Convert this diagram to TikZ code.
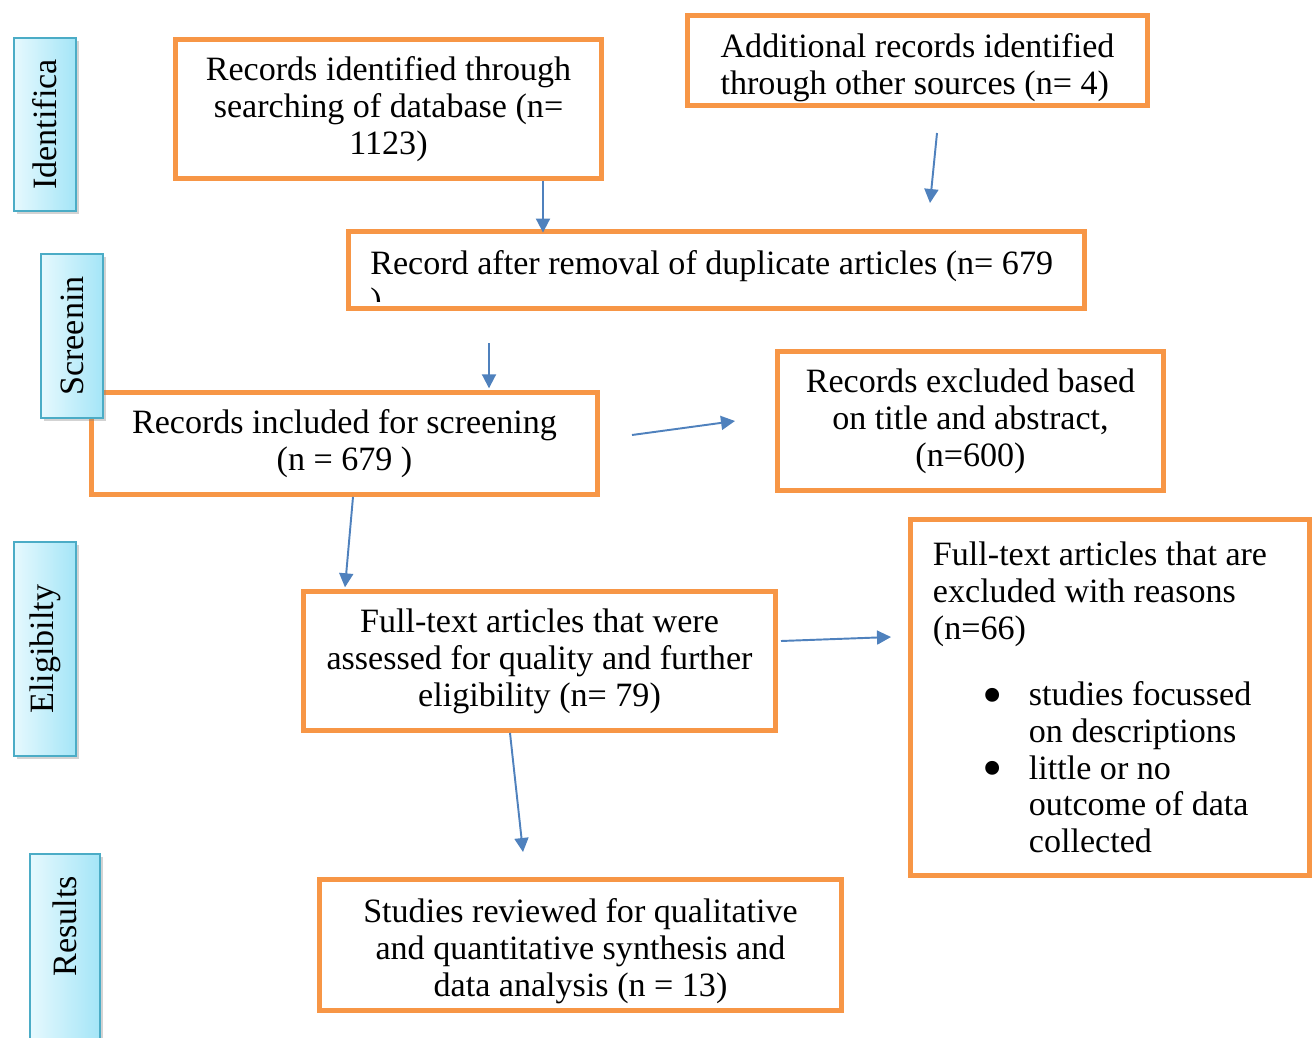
\documentclass[tikz,border=0pt]{standalone}
\usepackage{fontspec}
\setmainfont{Liberation Serif}
\usetikzlibrary{arrows.meta,shadows}
\definecolor{boxorange}{HTML}{F79646}
\definecolor{arrowblue}{HTML}{4F81BD}
\definecolor{tabedge}{HTML}{4BACC6}
\definecolor{tableft}{HTML}{E6F9FE}
\definecolor{tabright}{HTML}{A4E5F7}
\newcommand{\bigdot}{\raisebox{-5pt}{\scalebox{1.7}{\textbullet}}}

\begin{document}
\begin{tikzpicture}[x=0.02cm, y=-0.02cm, >={Triangle[width=0.28cm,length=0.28cm]},
    txt/.style={inner sep=0pt, font=\fontsize{19.4pt}{21pt}\selectfont},
    box/.style={txt, draw=boxorange, line width=2.8pt, fill=white, align=center},
    tab/.style={txt, draw=tabedge, line width=1pt, left color=tableft, right color=tabright,
        drop shadow={shadow xshift=1.5pt, shadow yshift=-1.5pt, opacity=0.35}},
    arr/.style={->, draw=arrowblue, line width=1.1pt}]
    % Page size
    \clip (0,0) rectangle (1316,1038);

    % Draw identification boxes
    \node[box, minimum width=8.52cm, minimum height=2.78cm] (rid) at (388.5,109)
        {Records identified through\\ searching of database (n=\\ 1123)};
    \node[box, align=left, minimum width=9.2cm, minimum height=1.8cm] (add) at (917.5,60.5)
        {\rule{0pt}{0.78cm}Additional records identified\\ through other sources (n= 4)};

    % Draw duplicate removal box, text cut at the bottom
    \node[box, minimum width=14.72cm, minimum height=1.54cm] (dup) at (716.5,270) {};
    \begin{scope}
        \clip (349,232) rectangle (1084,301);
        \node[txt, anchor=north west, align=left] (duptext) at (370,250)
            {Record after removal of duplicate articles (n= 679\\ )};
    \end{scope}

    % Draw screening boxes
    \node[box, minimum width=10.12cm, minimum height=2.04cm] (rs) at (344.5,443.5)
        {Records included for screening\\ (n = 679 )};
    \node[box, minimum width=7.72cm, minimum height=2.78cm] (exa) at (970.5,421)
        {Records excluded based\\ on title and abstract,\\ (n=600)};

    % Draw eligibility boxes
    \node[box, minimum width=9.44cm, minimum height=2.78cm] (ft) at (539.5,661)
        {Full-text articles that were\\ assessed for quality and further\\ eligibility (n= 79)};
    \node[box, align=left, minimum width=7.98cm, minimum height=7.12cm] (exb) at (1110,697.5)
        {Full-text articles that are\hspace*{0.4cm}\\ excluded with reasons\\ (n=66)\\[0.58cm]
         \hspace*{1cm}\makebox[0.92cm][l]{\bigdot}studies focussed\\
         \hspace*{1.92cm}on descriptions\\
         \hspace*{1cm}\makebox[0.92cm][l]{\bigdot}little or no\\
         \hspace*{1.92cm}outcome of data\\
         \hspace*{1.92cm}collected};

    % Draw results box
    \node[box, minimum width=10.44cm, minimum height=2.62cm] (sr) at (580.5,945)
        {\rule{0pt}{0.74cm}Studies reviewed for qualitative\\ and quantitative synthesis and\\ data analysis (n = 13)};

    % Draw free arrow ends
    \coordinate (aone) at (543,0);
    \coordinate (atwos) at (937,133);
    \coordinate (atwoe) at (930,203);
    \coordinate (athree) at (489,343);
    \coordinate (afours) at (632,435);
    \coordinate (afoure) at (735,421);
    \coordinate (afives) at (353,0);
    \coordinate (afivee) at (345,0);
    \coordinate (asixs) at (781,641);
    \coordinate (asixe) at (891,637);
    \coordinate (asevens) at (510,0);
    \coordinate (asevene) at (523,852);

    % Draw arrows
    \draw[arr] (rid.south -| aone) -- ([yshift=-2pt]dup.north -| aone);
    \draw[arr] (atwos) -- (atwoe);
    \draw[arr] (athree) -- ([yshift=1pt]rs.north -| athree);
    \draw[arr] (afours) -- (afoure);
    \draw[arr] (rs.south -| afives) -- ([yshift=1pt]ft.north -| afivee);
    \draw[arr] (asixs) -- (asixe);
    \draw[arr] (ft.south -| asevens) -- (asevene);

    % Draw stage tabs
    \node[tab, minimum width=1.24cm, minimum height=3.46cm] (tid) at (45,124.5) {\rotatebox{90}{Identifica}};
    \node[tab, minimum width=1.24cm, minimum height=3.28cm] (tsc) at (72,336) {\rotatebox{90}{Screenin}};
    \node[tab, minimum width=1.24cm, minimum height=4.28cm] (tel) at (45,649) {\rotatebox{90}{Eligibilty}};
    \node[tab, minimum width=1.4cm, minimum height=3.8cm] (tre) at (65,949) {\rotatebox{90}{\hspace*{0.92cm}Results}};
\end{tikzpicture}
\end{document}
